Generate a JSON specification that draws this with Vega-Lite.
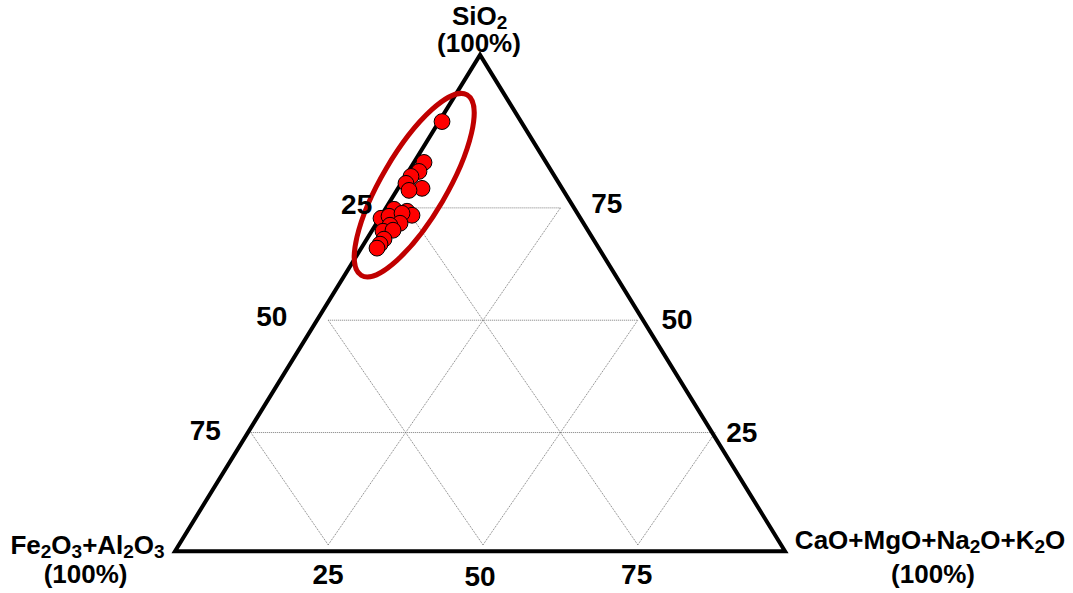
{
  "$schema": "https://vega.github.io/schema/vega-lite/v6.json",
  "width": 1073,
  "height": 593,
  "autosize": {"type": "fit", "contains": "padding"},
  "padding": 0,
  "background": "white",
  "view": {"stroke": null},
  "config": {"text": {"font": "Liberation Sans", "fontWeight": "bold", "color": "black"}},
  "datasets": {
    "frame": [
      {"order": 0, "x": 49.52, "y": -1.4},
      {"order": 1, "x": 0.26, "y": -1.4},
      {"order": 2, "x": 49.52, "y": 109.05},
      {"order": 3, "x": 98.77, "y": -1.4},
      {"order": 4, "x": 49.52, "y": -1.4}
    ],
    "grid": [
      {"x": 12.5, "y": 25, "x2": 87.5, "y2": 25},
      {"x": 25, "y": 50, "x2": 75, "y2": 50},
      {"x": 37.5, "y": 75, "x2": 62.5, "y2": 75},
      {"x": 25, "y": 0, "x2": 62.5, "y2": 75},
      {"x": 50, "y": 0, "x2": 75, "y2": 50},
      {"x": 75, "y": 0, "x2": 87.5, "y2": 25},
      {"x": 75, "y": 0, "x2": 37.5, "y2": 75},
      {"x": 50, "y": 0, "x2": 25, "y2": 50},
      {"x": 25, "y": 0, "x2": 12.5, "y2": 25}
    ],
    "samples": [
      {"x": 43.38, "y": 94.21},
      {"x": 40.47, "y": 85.12},
      {"x": 39.66, "y": 83.12},
      {"x": 38.37, "y": 82.01},
      {"x": 37.56, "y": 80.46},
      {"x": 40.15, "y": 79.35},
      {"x": 38.05, "y": 78.90},
      {"x": 37.73, "y": 74.25},
      {"x": 35.63, "y": 74.69},
      {"x": 38.53, "y": 73.36},
      {"x": 33.53, "y": 72.69},
      {"x": 34.82, "y": 73.14},
      {"x": 36.92, "y": 73.80},
      {"x": 36.60, "y": 71.58},
      {"x": 34.98, "y": 71.14},
      {"x": 33.85, "y": 69.81},
      {"x": 35.47, "y": 70.03},
      {"x": 34.01, "y": 68.04},
      {"x": 33.37, "y": 66.93},
      {"x": 32.88, "y": 66.04}
    ],
    "ellipse": [{"x": 38.89, "y": 80.06}],
    "ticks": [
      {"text": "25", "x": 29.60, "y": 73.54},
      {"text": "50", "x": 15.88, "y": 48.80},
      {"text": "75", "x": 5.15, "y": 23.29},
      {"text": "75", "x": 69.98, "y": 73.96},
      {"text": "50", "x": 81.33, "y": 48.07},
      {"text": "25", "x": 91.78, "y": 22.94},
      {"text": "25", "x": 24.97, "y": -8.74},
      {"text": "50", "x": 49.52, "y": -9.19},
      {"text": "75", "x": 74.82, "y": -8.74}
    ],
    "titleMain": [
      {"text": "SiO", "x": 44.99, "y": 115.73},
      {"text": "Fe", "x": -26.32, "y": -2.06},
      {"text": "O", "x": -19.72, "y": -2.06},
      {"text": "+Al", "x": -14.74, "y": -2.06},
      {"text": "O", "x": -6.39, "y": -2.06},
      {"text": "CaO+MgO+Na", "x": 100.36, "y": -0.89},
      {"text": "O+K", "x": 130.30, "y": -0.89},
      {"text": "O", "x": 140.75, "y": -0.89}
    ],
    "titleSub": [
      {"text": "2", "x": 52.23, "y": 114.84},
      {"text": "2", "x": -21.42, "y": -2.95},
      {"text": "3", "x": -16.45, "y": -2.95},
      {"text": "2", "x": -8.09, "y": -2.95},
      {"text": "3", "x": -3.12, "y": -2.95},
      {"text": "2", "x": 128.59, "y": -1.77},
      {"text": "2", "x": 139.05, "y": -1.77}
    ],
    "hundred": [
      {"text": "(100%)", "x": 49.35, "y": 109.74},
      {"text": "(100%)", "x": -14.18, "y": -8.5},
      {"text": "(100%)", "x": 122.67, "y": -8.5}
    ]
  },
  "encoding": {
    "x": {"field": "x", "type": "quantitative", "axis": null, "scale": {"domain": [-28.004, 145.28], "nice": false, "zero": false}},
    "y": {"field": "y", "type": "quantitative", "axis": null, "scale": {"domain": [-10.27, 121.27], "nice": false, "zero": false}}
  },
  "layer": [
    {
      "data": {"name": "grid"},
      "mark": {"type": "rule", "stroke": "#7a7a7a", "strokeWidth": 1, "strokeDash": [1, 1]},
      "encoding": {"x2": {"field": "x2"}, "y2": {"field": "y2"}}
    },
    {
      "data": {"name": "frame"},
      "mark": {"type": "line", "stroke": "black", "strokeWidth": 4, "strokeJoin": "miter", "strokeCap": "butt"},
      "encoding": {"order": {"field": "order", "type": "quantitative"}}
    },
    {
      "data": {"name": "samples"},
      "mark": {"type": "point", "shape": "circle", "filled": true, "fill": "#FF0000", "stroke": "black", "strokeWidth": 1, "size": 250, "opacity": 1}
    },
    {
      "data": {"name": "ellipse"},
      "mark": {
        "type": "point",
        "shape": "M -1 0 C -1 -0.1722 -0.5523 -0.3117 0 -0.3117 C 0.5523 -0.3117 1 -0.1722 1 0 C 1 0.1722 0.5523 0.3117 0 0.3117 C -0.5523 0.3117 -1 0.1722 -1 0 Z",
        "size": 43765,
        "angle": 300.4,
        "filled": false,
        "fill": null,
        "stroke": "#C00000",
        "strokeWidth": 5,
        "opacity": 1
      }
    },
    {
      "data": {"name": "ticks"},
      "mark": {"type": "text", "fontSize": 28, "align": "center", "baseline": "alphabetic"},
      "encoding": {"text": {"field": "text"}}
    },
    {
      "data": {"name": "titleMain"},
      "mark": {"type": "text", "fontSize": 26, "align": "left", "baseline": "alphabetic"},
      "encoding": {"text": {"field": "text"}}
    },
    {
      "data": {"name": "titleSub"},
      "mark": {"type": "text", "fontSize": 19, "align": "left", "baseline": "alphabetic"},
      "encoding": {"text": {"field": "text"}}
    },
    {
      "data": {"name": "hundred"},
      "mark": {"type": "text", "fontSize": 26, "align": "center", "baseline": "alphabetic"},
      "encoding": {"text": {"field": "text"}}
    }
  ]
}
